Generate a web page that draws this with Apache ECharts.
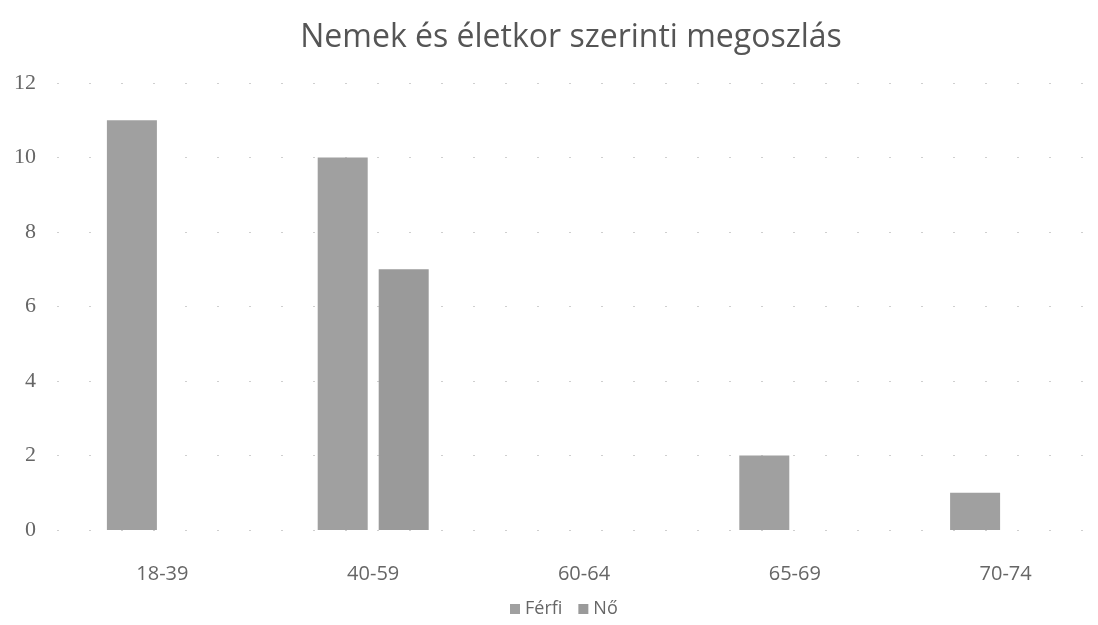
<!DOCTYPE html>
<html>
<head>
<meta charset="utf-8">
<script src="https://cdn.jsdelivr.net/npm/echarts@6/dist/echarts.min.js"></script>
<style>
  html, body { margin: 0; padding: 0; background: #fff; overflow: hidden; }
  /* a rajzterulet jobbra tullog az ablakon, mint az eredeti kepen */
  #chart { width: 1120px; height: 625px; }
</style>
</head>
<body>
<div id="chart"></div>
<script>
// korcsoportok es ertekek
var categories = ["18-39", "40-59", "60-64", "65-69", "70-74"];
var ferfi = [11, 10, 0, 2, 1];
var no = [0, 7, 0, 0, 0];
var yTicks = [0, 2, 4, 6, 8, 10, 12];

var chart = echarts.init(document.getElementById("chart"));
var option = {
  animation: false,
  title: {
    text: "Nemek és életkor szerinti megoszlás",
    left: 566,
    textAlign: "center",
    top: 17,
    textStyle: {
      fontFamily: "Open Sans",
      fontSize: 32,
      fontWeight: "normal",
      color: "#555"
    }
  },
  legend: {
    data: ["Férfi", "Nő"],
    bottom: 2,
    left: 505,
    itemWidth: 10,
    itemHeight: 10,
    itemGap: 16,
    icon: "rect",
    textStyle: { fontFamily: "Open Sans", fontSize: 18, color: "#666" }
  },
  grid: {
    left: 57,
    top: 83,
    width: 1054,
    bottom: 95,
    containLabel: false
  },
  xAxis: {
    type: "category",
    data: categories,
    axisLine: { show: false },
    axisTick: { show: false },
    axisLabel: {
      margin: 34,
      fontFamily: "Open Sans",
      fontSize: 20,
      color: "#666"
    }
  },
  yAxis: {
    type: "value",
    min: yTicks[0],
    max: yTicks[yTicks.length - 1],
    interval: 2,
    axisLine: { show: false },
    axisTick: { show: false },
    axisLabel: {
      margin: 21,
      fontFamily: "Liberation Serif",
      fontSize: 22,
      color: "#666"
    },
    splitLine: {
      lineStyle: { color: "#cfcfcf", type: [2, 30], width: 1 }
    }
  },
  series: [
    {
      name: "Férfi",
      type: "bar",
      data: ferfi,
      barWidth: 50,
      barGap: "22%",
      itemStyle: { color: "#a0a0a0" }
    },
    {
      name: "Nő",
      type: "bar",
      data: no,
      barWidth: 50,
      itemStyle: { color: "#9a9a9a" }
    }
  ]
};
chart.setOption(option);
</script>
</body>
</html>
